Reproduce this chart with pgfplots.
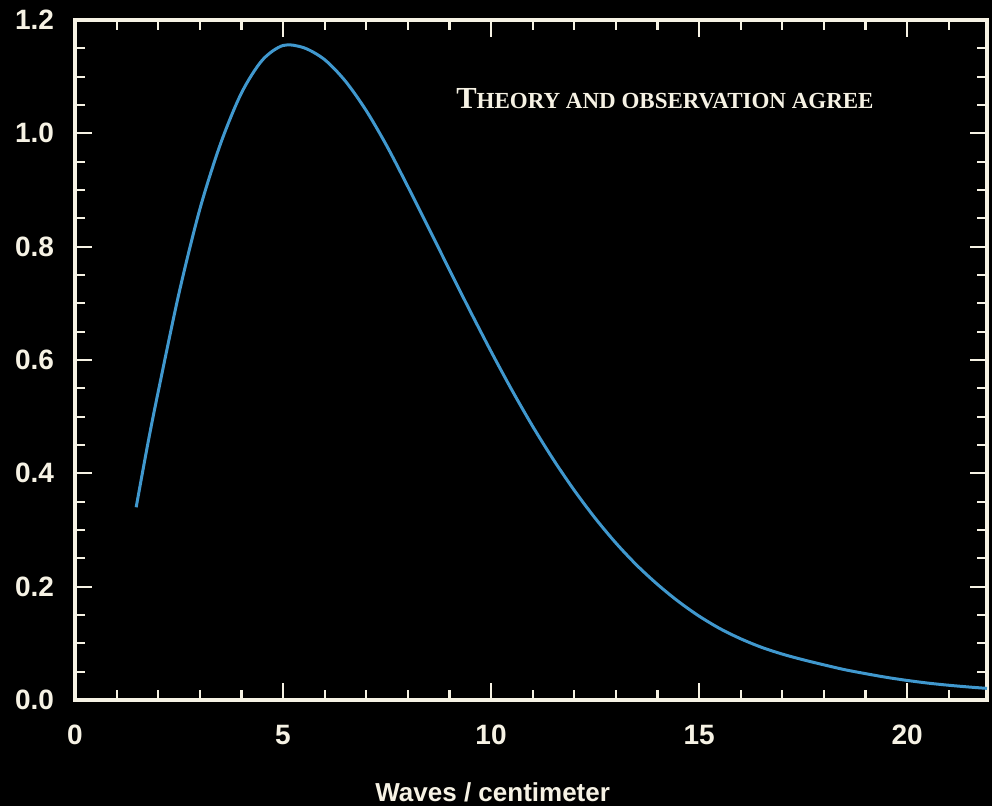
\documentclass[border=0pt]{standalone}
\usepackage{fontspec}
\setmainfont{Liberation Serif}
\setsansfont{Liberation Sans}
\usepackage{pgfplots}
\pgfplotsset{compat=1.18}
\usetikzlibrary{backgrounds}
\definecolor{cream}{RGB}{246,242,228}
\definecolor{curveblue}{RGB}{64,152,206}
\pgfplotstableread{
x y
1.47 0.340
1.75 0.452
2.00 0.544
2.50 0.718
3.00 0.866
3.50 0.982
4.00 1.071
4.50 1.129
5.00 1.155
5.50 1.151
6.00 1.130
6.50 1.092
7.00 1.040
7.50 0.977
8.00 0.906
8.50 0.833
9.00 0.759
9.50 0.686
10.00 0.615
10.50 0.547
11.00 0.483
11.50 0.424
12.00 0.370
12.50 0.321
13.00 0.277
13.50 0.238
14.00 0.204
14.50 0.174
15.00 0.148
15.50 0.126
16.00 0.108
16.50 0.093
17.00 0.081
17.50 0.071
18.00 0.062
18.50 0.0535
19.00 0.0465
19.50 0.0400
20.00 0.0345
20.50 0.0298
21.00 0.0260
21.50 0.0228
21.92 0.0205
}\spectrum
\begin{document}
\begin{tikzpicture}
\begin{axis}[
  scale only axis, width=456pt, height=340pt,
  xmin=0, xmax=21.92, ymin=0, ymax=1.2,
  axis line style={cream, line width=1.8pt},
  xtick={0,5,10,15,20}, minor xtick={1,2,...,21},
  ytick={0,0.2,0.4,0.6,0.8,1.0,1.2}, minor y tick num=3,
  xtick pos=both, ytick pos=both,
  tick align=inside,
  every tick/.style={cream, line width=1.1pt},
  major tick length=8.5pt, minor tick length=5pt,
  /pgf/number format/assume math mode=true,
  ticklabel style={font=\sffamily\bfseries\fontsize{14}{16}\selectfont, text=cream},
  yticklabel style={/pgf/number format/fixed, /pgf/number format/fixed zerofill, /pgf/number format/precision=1, xshift=-7pt},
  xticklabel style={yshift=-9pt},
  xlabel={Waves / centimeter},
  xlabel style={font=\sffamily\bfseries\fontsize{13}{15}\selectfont, text=cream, at={(rel axis cs:0.458,0)}, anchor=center, yshift=-46pt},
]
\addplot[curveblue, line width=1.5pt, smooth] table[x=x, y=y] {\spectrum};
\node[text=cream, font=\bfseries, anchor=center] at (axis cs:14.18,1.062)
  {{\fontsize{15.3}{17}\selectfont T}{\fontsize{11.5}{13}\selectfont HEORY AND OBSERVATION AGREE}};
\end{axis}
\begin{scope}[on background layer]
\fill[black] ([shift={(-37.5pt,-53pt)}]current axis.south west) rectangle ([shift={(2.5pt,10pt)}]current axis.north east);
\end{scope}
\pgfresetboundingbox
\path ([shift={(-37.5pt,-53pt)}]current axis.south west) rectangle ([shift={(2.5pt,10pt)}]current axis.north east);
\end{tikzpicture}
\end{document}
